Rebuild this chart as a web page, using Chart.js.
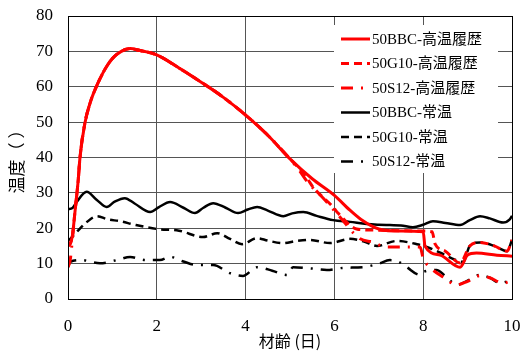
<!DOCTYPE html>
<html>
<head>
<meta charset="utf-8">
<script src="https://cdn.jsdelivr.net/npm/chart.js@4.4.0/dist/chart.umd.min.js"></script>
<style>
  html, body { margin: 0; padding: 0; background: #fff; }
</style>
</head>
<body>
<canvas id="tempChart" width="521" height="353"></canvas>
<script>
// 凡例ラベル
const seriesLabels = ['50BBC-高温履歴', '50G10-高温履歴', '50S12-高温履歴', '50BBC-常温', '50G10-常温', '50S12-常温'];

// 軸の目盛り
const xTicks = [0, 2, 4, 6, 8, 10];
const yTicks = [0, 10, 20, 30, 40, 50, 60, 70, 80];

// [材齢(日), 温度] — 図から読み取った値
const bbcHot = [[0, 15.5], [0.05, 15.8], [0.1, 18], [0.16, 25], [0.23, 33.6], [0.27, 40], [0.38, 49.7], [0.5, 55.5],
  [0.57, 58], [0.79, 64], [1.0, 68], [1.2, 70], [1.4, 70.8], [1.6, 70.3], [2.0, 69], [2.5, 65.3], [3.0, 61.3],
  [3.5, 57], [4.0, 52], [4.5, 46.3], [5.0, 39.6], [5.5, 34], [6.0, 29.3], [6.35, 25.1], [6.6, 22.5], [7.0, 19.8],
  [7.5, 19.2], [8.0, 19], [8.04, 15], [8.38, 12.4], [8.83, 9], [9.0, 12.4], [9.2, 13], [9.66, 12.4], [10, 12.1]];
const g10Hot = [[0, 15], [0.05, 15.5], [0.1, 18], [0.16, 25], [0.23, 33.6], [0.27, 40], [0.38, 49.7], [0.5, 55.5],
  [0.57, 58], [0.79, 64], [1.0, 68], [1.2, 70], [1.4, 70.8], [1.6, 70.3], [2.0, 69], [2.5, 65.3], [3.0, 61.3],
  [3.5, 57], [4.0, 52], [4.5, 46.3], [5.0, 39.6], [5.2, 37], [5.38, 34.2], [5.52, 31.6], [5.97, 26], [6.08, 24.3],
  [6.5, 19.8], [6.8, 19.5], [7.5, 19.3], [8.0, 19.2], [8.2, 19], [8.27, 15.5], [8.5, 13.5], [8.83, 10.2],
  [9.05, 15], [9.28, 16], [9.6, 15], [9.89, 13.5], [10, 16.7]];
const s12Hot = [[0, 9], [0.05, 11], [0.1, 17], [0.16, 25], [0.23, 33.6], [0.27, 40], [0.38, 49.7], [0.5, 55.5],
  [0.57, 58], [0.79, 64], [1.0, 68], [1.2, 70], [1.4, 70.8], [1.6, 70.3], [2.0, 69], [2.5, 65.3], [3.0, 61.3],
  [3.5, 57], [4.0, 52], [4.5, 46.3], [5.0, 39.6], [5.2, 36.5], [5.4, 33], [5.75, 28.5], [6.1, 23.5], [6.58, 17],
  [6.87, 16.1], [7.14, 14.7], [7.5, 14.7], [7.93, 14.7], [8.0, 11.5], [8.15, 9], [8.45, 6.2], [8.76, 4],
  [9.0, 5], [9.28, 6.6], [9.5, 6], [9.8, 4.5], [10, 5.2]];
const bbcRoom = [[0, 25.4], [0.1, 25.7], [0.2, 27.5], [0.42, 30.3], [0.65, 28], [0.87, 26], [1.05, 27.5], [1.28, 28.5],
  [1.5, 27], [1.85, 24.6], [2.05, 26], [2.3, 27.4], [2.6, 25.8], [2.86, 24.3], [3.05, 25.8], [3.27, 27.1],
  [3.55, 25.8], [3.83, 24.3], [4.05, 25.3], [4.26, 26], [4.5, 25], [4.85, 23.4], [5.05, 24.2], [5.3, 24.6],
  [5.6, 23.5], [5.97, 22.3], [6.35, 21.8], [6.73, 21.2], [7.0, 21], [7.25, 20.9], [7.5, 20.8], [7.77, 20.3],
  [8.0, 21], [8.22, 22], [8.5, 21.5], [8.83, 20.9], [9.05, 22.3], [9.28, 23.4], [9.5, 22.8], [9.8, 21.6],
  [9.95, 22.5], [10, 23.5]];
const g10Room = [[0, 16.5], [0.05, 17], [0.2, 19], [0.4, 21.5], [0.65, 23.4], [0.9, 22.5], [1.17, 22], [1.5, 21],
  [2.0, 19.8], [2.5, 19.3], [3.04, 17.5], [3.36, 18.6], [3.65, 17], [3.92, 15.5], [4.26, 17.2], [4.5, 16.5],
  [4.84, 15.8], [5.15, 16.4], [5.45, 16.7], [5.9, 15.8], [6.35, 17], [6.65, 16.3], [6.96, 15], [7.4, 16.4],
  [7.86, 15.5], [8.08, 14.7], [8.4, 13], [8.7, 11.2], [8.9, 10.5], [9.05, 15], [9.28, 16], [9.6, 15],
  [9.89, 13.5], [10, 16.7]];
const s12Room = [[0, 9], [0.05, 10.5], [0.3, 11], [0.72, 10.1], [1.1, 11], [1.4, 11.9], [1.75, 11], [2.07, 11],
  [2.3, 11.9], [2.6, 10.6], [2.9, 9.6], [3.27, 9.6], [3.65, 7.3], [3.94, 6.5], [4.26, 9], [4.6, 8], [4.93, 6.8],
  [5.07, 9], [5.5, 8.6], [5.83, 8.2], [6.2, 8.8], [6.65, 9], [7.0, 10], [7.25, 11], [7.45, 10.5], [7.63, 9],
  [7.93, 6.8], [8.0, 7.6], [8.3, 8.2], [8.5, 6.5], [8.76, 4], [9.0, 5.2], [9.28, 6.8], [9.5, 6], [9.73, 4.5],
  [10, 5.4]];

const seriesData = [bbcHot, g10Hot, s12Hot, bbcRoom, g10Room, s12Room];
const seriesColors = ['#ff0000', '#ff0000', '#ff0000', '#000000', '#000000', '#000000'];
const seriesDashes = [[], [8, 5], [12, 8, 2, 8], [], [8, 5], [12, 8, 2, 8]];
const seriesWidths = [3, 3, 3, 2.5, 2.5, 2.5];

const serif = '"Liberation Serif", "Times New Roman", serif';
const cjk = '"Noto Sans CJK JP", sans-serif';

Chart.defaults.font.family = serif;
Chart.defaults.font.size = 17;
Chart.defaults.color = '#000';

// 図中の凡例（白地の枠内）
const insideLegend = {
  id: 'insideLegend',
  afterDatasetsDraw(chart) {
    const ctx = chart.ctx;
    ctx.save();
    ctx.fillStyle = '#fff';
    ctx.fillRect(334, 25, 164, 148);
    chart.data.datasets.forEach((ds, i) => {
      const y = 39 + i * 24.5;
      ctx.strokeStyle = ds.borderColor;
      ctx.lineWidth = ds.borderWidth;
      ctx.setLineDash(ds.borderDash);
      ctx.beginPath();
      ctx.moveTo(341, y);
      ctx.lineTo(370, y);
      ctx.stroke();
      ctx.setLineDash([]);
      ctx.fillStyle = '#000';
      ctx.font = '15px ' + serif + ', ' + cjk;
      ctx.textBaseline = 'middle';
      ctx.fillText(ds.label, 372, y + 1);
    });
    // 外枠
    const a = chart.chartArea;
    ctx.strokeStyle = '#000';
    ctx.lineWidth = 1;
    ctx.strokeRect(Math.round(a.left) + 0.5, Math.round(a.top) + 0.5, Math.round(a.right - a.left), Math.round(a.bottom - a.top));
    ctx.restore();
  }
};

new Chart(document.getElementById('tempChart'), {
  type: 'line',
  data: {
    datasets: seriesLabels.map((label, i) => ({
      label: label,
      data: seriesData[i].map(p => ({ x: p[0], y: p[1] })),
      borderColor: seriesColors[i],
      borderWidth: seriesWidths[i],
      borderDash: seriesDashes[i],
      pointRadius: 0,
      fill: false,
      cubicInterpolationMode: 'monotone'
    }))
  },
  options: {
    responsive: false,
    animation: false,
    layout: { padding: { left: 0, top: 16, right: 9, bottom: 0 } },
    plugins: {
      legend: { display: false },
      tooltip: { enabled: false }
    },
    scales: {
      x: {
        type: 'linear',
        min: xTicks[0],
        max: xTicks[xTicks.length - 1],
        afterBuildTicks: s => { s.ticks = xTicks.map(v => ({ value: v })); },
        afterFit: s => { s.height = 54; s.paddingLeft = 0; s.paddingRight = 0; },
        grid: { color: '#555', drawTicks: false },
        border: { color: '#000' },
        ticks: { padding: 17, maxRotation: 0 },
        title: { display: true, text: '材齢 (日)', font: { family: cjk, size: 16 }, padding: { top: 0, bottom: 2 } }
      },
      y: {
        min: yTicks[0],
        max: yTicks[yTicks.length - 1],
        afterBuildTicks: s => { s.ticks = yTicks.map(v => ({ value: v })); },
        afterFit: s => { s.width = 68; s.paddingTop = 0; s.paddingBottom = 0; },
        grid: { color: '#555', drawTicks: false },
        border: { color: '#000' },
        ticks: { padding: 15 },
        title: { display: true, text: '温度（ ）', font: { family: cjk, size: 17 }, padding: { top: 6, bottom: 0 } }
      }
    }
  },
  plugins: [insideLegend]
});
</script>
</body>
</html>
